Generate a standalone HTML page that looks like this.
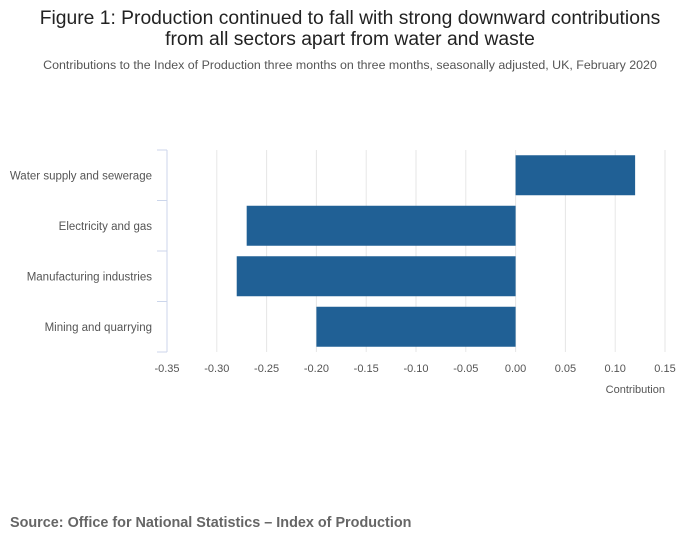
<!DOCTYPE html>
<html><head><meta charset="utf-8"><style>
body{margin:0;background:#fff;font-family:"Liberation Sans",sans-serif;}
svg text{font-family:"Liberation Sans",sans-serif;}
</style></head><body>
<svg width="700" height="549">
<text x="350" y="24" text-anchor="middle" font-size="19.3" fill="#222">Figure 1: Production continued to fall with strong downward contributions</text>
<text x="350" y="45" text-anchor="middle" font-size="19.3" fill="#222">from all sectors apart from water and waste</text>
<text x="350" y="69" text-anchor="middle" font-size="12.4" fill="#555">Contributions to the Index of Production three months on three months, seasonally adjusted, UK, February 2020</text>
<g id="grid"></g><g id="bars"></g><g id="axes"></g>
<text x="665" y="393" text-anchor="end" font-size="11" fill="#555">Contribution</text>
<text x="10" y="527" font-size="14.4" font-weight="bold" fill="#666">Source: Office for National Statistics – Index of Production</text>
</svg>
<script>
const categories=["Water supply and sewerage","Electricity and gas","Manufacturing industries","Mining and quarrying"];
const values=[0.12,-0.27,-0.28,-0.20];
const ticks=[-0.35,-0.30,-0.25,-0.20,-0.15,-0.10,-0.05,0.00,0.05,0.10,0.15];
const NS="http://www.w3.org/2000/svg";
const x0=167,x1=665,vmin=-0.35,vmax=0.15,yTop=150,band=50.5;
const xs=v=>x0+(v-vmin)/(vmax-vmin)*(x1-x0);
function mk(tag,at,parent){const e=document.createElementNS(NS,tag);for(const k in at)e.setAttribute(k,at[k]);document.getElementById(parent).appendChild(e);return e;}
ticks.forEach(t=>{
 const g=mk('line',{x1:xs(t),x2:xs(t),y1:yTop,y2:yTop+band*categories.length,stroke:'#e6e6e6'},'grid');
 
 
 const l=mk('text',{x:xs(t),y:372,'text-anchor':'middle','font-size':'11',fill:'#555'},'axes');
 l.textContent=t.toFixed(2);
 
 
});
const ax=mk('line',{x1:x0,x2:x0,y1:yTop,y2:yTop+band*categories.length,stroke:'#ccd6eb'},'axes');


for(let i=0;i<=categories.length;i++){
 const tk=mk('line',{x1:x0-10,x2:x0,y1:yTop+band*i,y2:yTop+band*i,stroke:'#ccd6eb'},'axes');
 
 
}
categories.forEach((c,i)=>{
 const yc=yTop+band*i+band/2;
 const l=mk('text',{x:152,y:yc+4,'text-anchor':'end','font-size':'11.5',fill:'#555'},'axes');
 l.textContent=c;
 
 
 const v=values[i];
 const a=xs(Math.min(0,v)),b=xs(Math.max(0,v));
 const r=mk('rect',{x:a,y:yc-20,width:b-a,height:40,fill:'#206095'},'bars');
 
 
});
</script>
</body></html>
